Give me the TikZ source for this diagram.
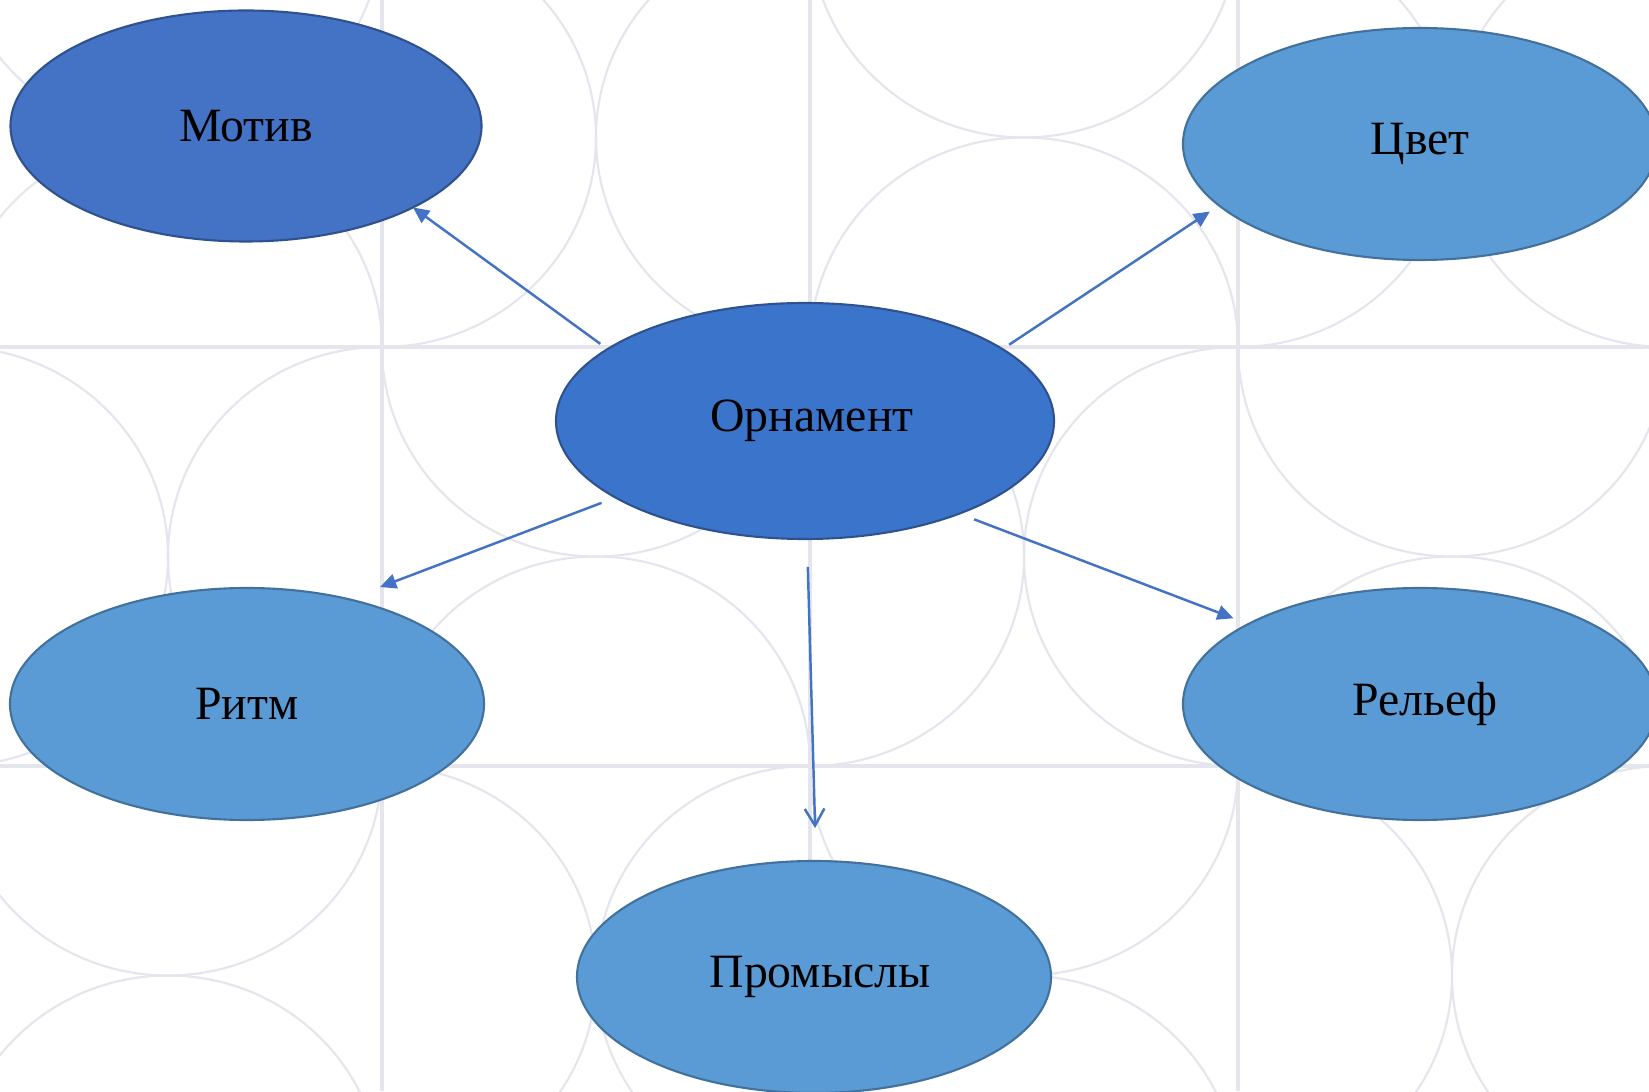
\documentclass[tikz,border=0pt]{standalone}
\usepackage{fontspec}
\setmainfont{Liberation Serif}
\usetikzlibrary{shapes.geometric,arrows.meta}

\definecolor{bgline}{RGB}{229,229,237}
\definecolor{motivfill}{RGB}{68,114,196}
\definecolor{ornfill}{RGB}{59,117,203}
\definecolor{lightfill}{RGB}{91,155,213}
\definecolor{darkrim}{RGB}{47,82,143}
\definecolor{lightrim}{RGB}{65,113,156}
\definecolor{linkblue}{RGB}{68,114,196}

\tikzset{
  bgarc/.style={draw=bgline, line width=0.6pt},
  bggrid/.style={draw=bgline, line width=0.9pt},
  oval/.style={ellipse, inner sep=0pt, outer sep=0pt, line width=0.6pt, text=black, font=\fontsize{13.6}{16}\selectfont},
  main oval/.style={oval, fill=ornfill, draw=darkrim, minimum width=4.98cm, minimum height=2.36cm},
  dark oval/.style={oval, fill=motivfill, draw=darkrim, minimum width=4.71cm, minimum height=2.31cm},
  side oval/.style={oval, fill=lightfill, draw=lightrim, minimum width=4.74cm, minimum height=2.32cm},
  arrowline/.style={draw=linkblue, line width=0.7pt, -{Triangle[length=4.6pt,width=4.2pt]}},
  openline/.style={draw=linkblue, line width=0.7pt, -{Straight Barb[length=4.8pt,width=5.6pt]}},
}

\begin{document}
\begin{tikzpicture}
\useasboundingbox (0,0) rectangle (16.49,10.91);
\fill[white] (0,0) rectangle (16.49,10.91);

% background tiles
\begin{scope}
\clip (0,0) rectangle (16.49,10.91);
\foreach \c in {0,...,3} {
  \foreach \r in {0,1,2} {
    \pgfmathsetmacro\xl{-0.46+4.28*\c}
    \pgfmathsetmacro\xr{\xl+4.28}
    \pgfmathsetmacro\xm{\xl+2.14}
    \pgfmathsetmacro\yt{11.63-4.19*\r}
    \pgfmathsetmacro\yb{\yt-4.19}
    \pgfmathsetmacro\ym{\yt-2.095}
    \pgfmathtruncatemacro\odd{mod(\c+\r,2)}
    \begin{scope}
      \clip (\xl,\yb) rectangle (\xr,\yt);
      \ifnum\odd=0
        \draw[bgarc] (\xm,\yt) ellipse[x radius=2.14cm, y radius=2.095cm];
        \draw[bgarc] (\xm,\yb) ellipse[x radius=2.14cm, y radius=2.095cm];
      \else
        \draw[bgarc] (\xl,\ym) ellipse[x radius=2.14cm, y radius=2.095cm];
        \draw[bgarc] (\xr,\ym) ellipse[x radius=2.14cm, y radius=2.095cm];
      \fi
    \end{scope}
  }
}
\foreach \x in {3.82,8.10,12.38}
  \draw[bggrid] (\x,0) -- (\x,10.91);
\foreach \y in {7.44,3.25}
  \draw[bggrid] (0,\y) -- (16.49,\y);
\end{scope}

% ovals
\node[main oval] (orn) at (8.05,6.70) {\hspace*{0.14cm}Орнамент};
\node[dark oval] (motiv) at (2.46,9.65) {Мотив};
\node[side oval] (cvet) at (14.20,9.47) {Цвет};
\node[side oval] (ritm) at (2.47,3.87) {Ритм};
\node[side oval] (relef) at (14.20,3.87) {\hspace*{0.1cm}Рельеф};
\node[side oval] (prom) at (8.14,1.14) {\hspace*{0.12cm}Промыслы};

% arrows
\draw[arrowline, shorten <=0.09cm] (orn.160) -- (motiv.-26);
\draw[arrowline, shorten <=0.08cm, shorten >=0.11cm] (orn.20) -- (cvet.-163);
\draw[arrowline, shorten <=0.15cm, shorten >=0.34cm] (orn.202) -- (ritm.46);
\draw[arrowline, shorten <=0.16cm, shorten >=0.16cm] (orn.-31) -- (relef.155);
\draw[openline, shorten <=0.28cm, shorten >=0.33cm] (orn.-89) -- (prom.89);
\end{tikzpicture}
\end{document}
